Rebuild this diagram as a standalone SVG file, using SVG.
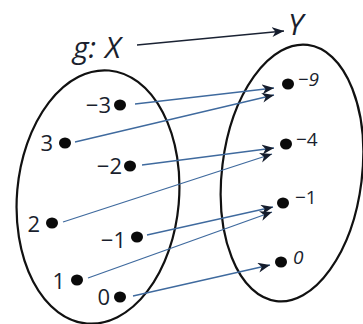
<svg xmlns="http://www.w3.org/2000/svg" width="363" height="324" viewBox="0 0 363 324">
<style>
.set{fill:none;stroke:#111;stroke-width:2.2}
.dot{fill:#0a0a0a}
.lbl{font-family:"Open Sans","Liberation Sans",sans-serif;font-size:22px;fill:#1a1f2e}
.rl{font-family:"Open Sans","Liberation Sans",sans-serif;font-size:19px;fill:#1a1f2e}
.ttl{font-family:"Open Sans","Liberation Sans",sans-serif;font-size:30px;font-style:italic;fill:#1a1f2e}
.map{stroke:#3f6a9e;stroke-width:1.3;fill:none;marker-end:url(#ah)}
.top{stroke:#1a2233;stroke-width:1.4;fill:none;marker-end:url(#ah)}
</style>
<defs>
<marker id="ah" markerUnits="userSpaceOnUse" markerWidth="13" markerHeight="11" refX="12" refY="5" orient="auto">
<path d="M0,0 L12,5 L0,10 L3.5,5 z" fill="#141c2c"/>
</marker>
</defs>
<rect width="363" height="324" fill="#fff"/>
<g id="title">
<text class="ttl" x="73" y="58">g:<tspan x="105">X</tspan></text>
<text class="ttl" x="288" y="35">Y</text>
</g>
<g id="setX"><ellipse class="set" cx="98" cy="197" rx="81" ry="127" transform="rotate(5 98 197)"/></g>
<g id="setY"><ellipse class="set" cx="292" cy="173" rx="70" ry="129" transform="rotate(7 292 173)"/></g>
<g id="connectors">
<line class="top" x1="137" y1="45" x2="284" y2="31"/>
<line class="map" x1="135" y1="104" x2="274" y2="88"/>
<line class="map" x1="75" y1="142" x2="274" y2="95"/>
<line class="map" x1="142" y1="165" x2="274" y2="148"/>
<line class="map" x1="63" y1="222" x2="272" y2="154"/>
<line class="map" x1="147" y1="235" x2="273" y2="207"/>
<line class="map" x1="88" y1="278" x2="272" y2="212"/>
<line class="map" x1="133" y1="296" x2="270" y2="265"/>
</g>
<g id="x-m3"><ellipse class="dot" cx="120" cy="105" rx="6" ry="5.5"/><text class="lbl" x="111" y="113" text-anchor="end">−3</text></g>
<g id="x-3"><ellipse class="dot" cx="65" cy="143" rx="6" ry="5.5"/><text class="lbl" x="53" y="151" text-anchor="end">3</text></g>
<g id="x-m2"><ellipse class="dot" cx="130" cy="166" rx="6" ry="5.5"/><text class="lbl" x="122" y="174" text-anchor="end">−2</text></g>
<g id="x-2"><ellipse class="dot" cx="52" cy="223" rx="6" ry="5.5"/><text class="lbl" x="40" y="232" text-anchor="end">2</text></g>
<g id="x-m1"><ellipse class="dot" cx="137" cy="237" rx="6" ry="5.5"/><text class="lbl" x="126" y="248" text-anchor="end">−1</text></g>
<g id="x-1"><ellipse class="dot" cx="77" cy="280" rx="6" ry="5.5"/><text class="lbl" x="65" y="289" text-anchor="end">1</text></g>
<g id="x-0"><ellipse class="dot" cx="120" cy="297" rx="6" ry="5.5"/><text class="lbl" x="110" y="305" text-anchor="end">0</text></g>
<g id="y-m9"><ellipse class="dot" cx="288" cy="84" rx="6" ry="5.5"/><text class="rl" x="298" y="86" font-style="italic">−9</text></g>
<g id="y-m4"><ellipse class="dot" cx="286" cy="144" rx="6" ry="5.5"/><text class="rl" x="296" y="146">−4</text></g>
<g id="y-m1"><ellipse class="dot" cx="283" cy="203" rx="6" ry="5.5"/><text class="rl" x="295" y="204">−1</text></g>
<g id="y-0"><ellipse class="dot" cx="281" cy="262" rx="6" ry="5.5"/><text class="rl" x="293" y="264" font-style="italic">0</text></g>
</svg>
